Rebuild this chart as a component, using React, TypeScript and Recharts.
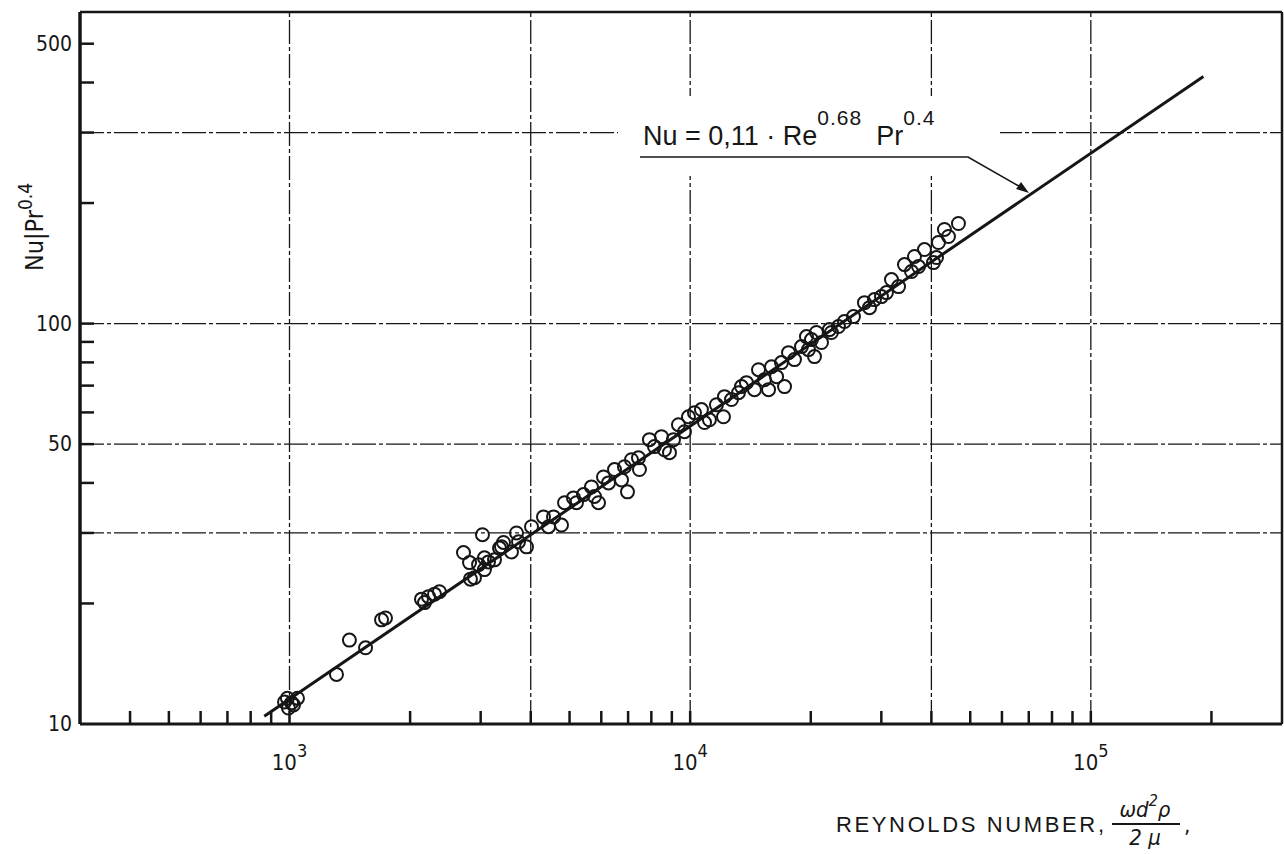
import { ComposedChart, Scatter, XAxis, YAxis, ReferenceLine } from 'recharts';

const reynolds = [
  988, 1012, 994, 1047, 1023, 972, 1310, 1411, 1548, 1697,
  1736, 2135, 2223, 2301, 2367, 2173, 2829, 2718, 2814, 2964,
  3066, 3066, 3248, 3343, 3031, 2895, 3138, 3381, 3581, 3420,
  3686, 3729, 3904, 4018, 4305, 4431, 4560, 4774, 4858, 5114,
  5203, 5417, 5671, 5770, 5905, 6077, 6254, 6474, 6740, 6855,
  6975, 7137, 7430, 7472, 7913, 8144, 8479, 8627, 9085, 8879,
  9350, 9678, 9903, 10250, 10670, 10860, 11170, 11630, 12180, 12110,
  12680, 13430, 13200, 13820, 14470, 14810, 15320, 15960, 15690, 16430,
  17200, 16900, 17600, 18210, 18960, 19740, 20080, 20430, 20660, 21270,
  22520, 23450, 24270, 25560, 27230, 28030, 28840, 30020, 30900, 31800,
  33120, 34270, 35680, 37150, 38440, 40480, 41190, 41660, 44120, 46730,
  43110, 36300, 22260, 19510
];
const nuPr = [
  11.6, 11.3, 10.96, 11.6, 11.16, 11.35, 13.3, 16.2, 15.5, 18.2,
  18.4, 20.5, 20.8, 21.1, 21.4, 20.1, 23.0, 26.8, 25.3, 25.0,
  26.0, 24.3, 25.7, 27.5, 29.7, 23.2, 25.4, 27.7, 26.9, 28.4,
  30.0, 28.5, 27.7, 31.1, 32.9, 31.1, 32.9, 31.4, 35.7, 36.7,
  35.7, 37.4, 39.1, 37.0, 35.7, 41.4, 40.0, 43.2, 40.7, 43.9,
  38.0, 45.7, 46.2, 43.2, 51.3, 49.3, 52.2, 48.4, 51.3, 47.6,
  55.9, 53.7, 58.5, 59.9, 61.0, 56.6, 57.5, 62.7, 65.7, 58.5,
  64.6, 69.6, 67.2, 71.2, 68.4, 76.7, 72.4, 78.0, 68.4, 73.7,
  69.6, 79.9, 84.6, 81.3, 87.6, 86.1, 91.2, 82.7, 95.0, 89.7,
  95.0, 98.3, 101.2, 104.1, 112.8, 109.6, 114.8, 116.8, 119.5, 128.8,
  123.7, 140.4, 134.9, 138.8, 153.1, 142.0, 146.2, 159.4, 165.0, 177.8,
  171.8, 147.1, 96.6, 92.8
];

// correlation line Nu = 0.11 Re^0.68 Pr^0.4, end points as drawn
const fitRe = [865, 191000];
const fitNu = [10.45, 414];

const xTicks = [
  400, 500, 600, 700, 800, 900, 1000,
  2000, 3000, 4000, 5000, 6000, 7000, 8000, 9000, 10000,
  20000, 30000, 40000, 50000, 60000, 70000, 80000, 90000, 100000, 200000
];
const xExponents: Record<number, string> = { 1000: '3', 10000: '4', 100000: '5' };
const yTicks = [10, 20, 30, 40, 50, 60, 70, 80, 90, 100, 200, 300, 400, 500];
const yLabelled = [10, 50, 100, 500];
const xGrid = [1000, 4000, 10000, 40000, 100000];
const yGrid = [30, 50, 100, 300];

const points = reynolds.map((re, i) => ({ re, nu: nuPr[i] }));
const fit = fitRe.map((re, i) => ({ re, nu: fitNu[i] }));

const INK = '#161616';
const FONT = "'DejaVu Sans Condensed', 'Liberation Sans', sans-serif";
const FONT_W = "'Liberation Sans', Arial, sans-serif";

function XTick(props: any) {
  const { x, y, payload } = props;
  const exp = xExponents[payload.value];
  return (
    <g>
      <line x1={x} x2={x} y1={y} y2={y - 13} stroke={INK} strokeWidth={2.5} />
      {exp && (
        <text x={x} y={y + 46} textAnchor="middle" fontSize={22} fill={INK} fontFamily={FONT}>
          10<tspan dy={-13} fontSize={18}>{exp}</tspan>
        </text>
      )}
    </g>
  );
}

function YTick(props: any) {
  const { x, y, payload } = props;
  const v = payload.value;
  return (
    <g>
      {v !== 10 && <line x1={x} x2={x + 14} y1={y} y2={y} stroke={INK} strokeWidth={2.5} />}
      {yLabelled.includes(v) && (
        <text x={x - 8} y={y + 7} textAnchor="end" fontSize={21} fill={INK} fontFamily={FONT}>
          {v}
        </text>
      )}
    </g>
  );
}

const Circle = (props: any) => (
  <circle cx={props.cx} cy={props.cy} r={6.5} fill="none" stroke={INK} strokeWidth={2} />
);

export default function App() {
  return (
    <div style={{ position: 'absolute', left: 0, top: 0, width: 1284, height: 854, background: '#fff' }}>
      <ComposedChart width={1284} height={854} margin={{ top: 12, right: 2, left: 0, bottom: 0 }}>
        <XAxis
          type="number"
          dataKey="re"
          scale="log"
          domain={[300, 300000]}
          allowDataOverflow
          ticks={xTicks}
          interval={0}
          height={130}
          tickSize={0}
          tickMargin={0}
          axisLine={{ stroke: INK, strokeWidth: 3 }}
          tick={<XTick />}
        />
        <YAxis
          type="number"
          dataKey="nu"
          scale="log"
          domain={[10, 600]}
          allowDataOverflow
          ticks={yTicks}
          interval={0}
          width={80}
          tickSize={0}
          tickMargin={0}
          axisLine={{ stroke: INK, strokeWidth: 3.5 }}
          tick={<YTick />}
        />
        {xGrid.map((v) => (
          <ReferenceLine key={'x' + v} x={v} stroke={INK} strokeWidth={1.3} strokeDasharray="24 3 4 3" />
        ))}
        {yGrid.map((v) => (
          <ReferenceLine key={'y' + v} y={v} stroke={INK} strokeWidth={1.3} strokeDasharray="24 3 4 3" />
        ))}
        <ReferenceLine y={600} stroke={INK} strokeWidth={2.5} />
        <ReferenceLine x={300000} stroke={INK} strokeWidth={2.5} />
        <Scatter
          data={fit}
          line={{ stroke: INK, strokeWidth: 3 }}
          shape={() => <g />}
          isAnimationActive={false}
        />
        <Scatter data={points} shape={<Circle />} isAnimationActive={false} />
      </ComposedChart>

      <svg
        width={1284}
        height={854}
        style={{ position: 'absolute', left: 0, top: 0, pointerEvents: 'none' }}
      >
        {/* equation callout */}
        <rect x={618} y={96} width={382} height={80} fill="#fff" />
        <text x={643} y={145} fontSize={27} fill={INK} fontFamily={FONT_W}>
          Nu = 0,11 · Re
          <tspan dy={-20} fontSize={21} letterSpacing={1}>0.68</tspan>
          <tspan dy={20} dx={14}>Pr</tspan>
          <tspan dy={-20} fontSize={21} letterSpacing={1}>0.4</tspan>
        </text>
        <polyline points="640,157 968,157 1024,189" fill="none" stroke={INK} strokeWidth={1.6} />
        <polygon points="1029,193 1016,189 1021,182" fill={INK} />

        {/* axis titles */}
        <text
          transform="rotate(-90)"
          x={-227}
          y={43}
          textAnchor="middle"
          fontSize={25}
          fill={INK}
          fontFamily={FONT}
        >
          Nu|Pr<tspan dy={-11} fontSize={19}>0.4</tspan>
        </text>
        <text x={836} y={832} fontSize={22} fill={INK} fontFamily={FONT_W} textLength={268} lengthAdjust="spacing">
          REYNOLDS NUMBER,
        </text>
        <text x={1145} y={817} textAnchor="middle" fontSize={22} fill={INK} fontFamily={FONT} fontStyle="italic">
          ωd<tspan dy={-11} fontSize={16}>2</tspan>
          <tspan dy={11}>ρ</tspan>
        </text>
        <line x1={1112} x2={1180} y1={824} y2={824} stroke={INK} strokeWidth={1.8} />
        <text x={1145} y={845} textAnchor="middle" fontSize={22} fill={INK} fontFamily={FONT} fontStyle="italic">
          2 μ
        </text>
        <text x={1184} y={833} fontSize={22} fill={INK} fontFamily={FONT}>
          ,
        </text>
      </svg>
    </div>
  );
}
